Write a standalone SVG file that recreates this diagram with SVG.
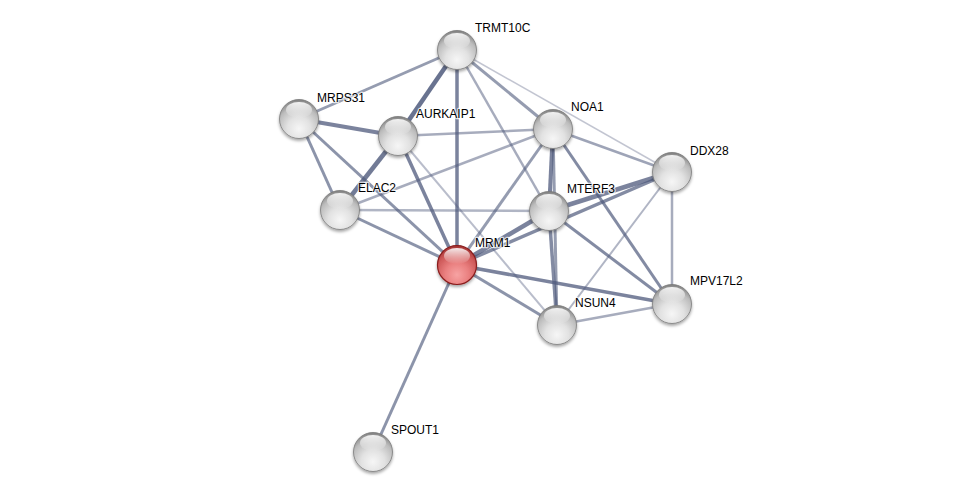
<svg xmlns="http://www.w3.org/2000/svg" width="975" height="497" viewBox="0 0 975 497">
<defs>
  <radialGradient id="gGray" cx="50%" cy="75%" r="75%">
    <stop offset="0" stop-color="#f6f6f6"/>
    <stop offset="0.4" stop-color="#e2e2e2"/>
    <stop offset="0.75" stop-color="#bcbcbc"/>
    <stop offset="1" stop-color="#7e7e7e"/>
  </radialGradient>
  <radialGradient id="gRed" cx="50%" cy="75%" r="75%">
    <stop offset="0" stop-color="#f7a3a3"/>
    <stop offset="0.4" stop-color="#ea8080"/>
    <stop offset="0.75" stop-color="#cd5858"/>
    <stop offset="1" stop-color="#a03030"/>
  </radialGradient>
  <linearGradient id="gloss" x1="0" y1="0" x2="0" y2="1">
    <stop offset="0" stop-color="#ffffff" stop-opacity="0.9"/>
    <stop offset="1" stop-color="#ffffff" stop-opacity="0"/>
  </linearGradient>
  <filter id="shadow" x="-50%" y="-50%" width="200%" height="200%">
    <feDropShadow dx="0" dy="2" stdDeviation="1.6" flood-color="#000" flood-opacity="0.35"/>
  </filter>
</defs>
<style>
  .e { stroke: #4f5a7c; fill: none; stroke-linecap: butt; }
  .n { fill: url(#gGray); stroke: #7a7a7a; stroke-width: 0.8; filter: url(#shadow); }
  .r { fill: url(#gRed); stroke: #8a1d1d; stroke-width: 1.2; filter: url(#shadow); }
  .gl { fill: url(#gloss); }
  .t { font-family: "Liberation Sans", Arial, sans-serif; font-size: 12px; fill: #000; stroke: #ffffff; stroke-width: 2.5; stroke-opacity: 0.7; paint-order: stroke; stroke-linejoin: round; }
</style>
<rect width="975" height="497" fill="#ffffff"/>
<g id="edges">
  <line class="e" x1="457" y1="50" x2="299" y2="119" stroke-width="3" stroke-opacity="0.6"/>
  <line class="e" x1="457" y1="50" x2="398" y2="136" stroke-width="4.5" stroke-opacity="0.85"/>
  <line class="e" x1="457" y1="50" x2="457" y2="265" stroke-width="3.5" stroke-opacity="0.75"/>
  <line class="e" x1="457" y1="50" x2="553" y2="129" stroke-width="3" stroke-opacity="0.6"/>
  <line class="e" x1="457" y1="50" x2="672" y2="172" stroke-width="1.5" stroke-opacity="0.35"/>
  <line class="e" x1="457" y1="50" x2="549" y2="211" stroke-width="2.5" stroke-opacity="0.5"/>
  <line class="e" x1="299" y1="119" x2="398" y2="136" stroke-width="4" stroke-opacity="0.75"/>
  <line class="e" x1="299" y1="119" x2="340" y2="210" stroke-width="3" stroke-opacity="0.65"/>
  <line class="e" x1="299" y1="119" x2="457" y2="265" stroke-width="3" stroke-opacity="0.65"/>
  <line class="e" x1="398" y1="136" x2="340" y2="210" stroke-width="4.5" stroke-opacity="0.8"/>
  <line class="e" x1="398" y1="136" x2="457" y2="265" stroke-width="3.5" stroke-opacity="0.75"/>
  <line class="e" x1="398" y1="136" x2="553" y2="129" stroke-width="2.5" stroke-opacity="0.5"/>
  <line class="e" x1="398" y1="136" x2="557" y2="325" stroke-width="2" stroke-opacity="0.4"/>
  <line class="e" x1="340" y1="210" x2="553" y2="129" stroke-width="2.5" stroke-opacity="0.5"/>
  <line class="e" x1="340" y1="210" x2="549" y2="211" stroke-width="2.5" stroke-opacity="0.45"/>
  <line class="e" x1="340" y1="210" x2="457" y2="265" stroke-width="3" stroke-opacity="0.65"/>
  <line class="e" x1="553" y1="129" x2="672" y2="172" stroke-width="2.5" stroke-opacity="0.55"/>
  <line class="e" x1="553" y1="129" x2="549" y2="211" stroke-width="4" stroke-opacity="0.75"/>
  <line class="e" x1="553" y1="129" x2="457" y2="265" stroke-width="3" stroke-opacity="0.6"/>
  <line class="e" x1="553" y1="129" x2="672" y2="304" stroke-width="3" stroke-opacity="0.7"/>
  <line class="e" x1="553" y1="129" x2="557" y2="325" stroke-width="3" stroke-opacity="0.6"/>
  <line class="e" x1="549" y1="211" x2="672" y2="172" stroke-width="4.5" stroke-opacity="0.75"/>
  <line class="e" x1="549" y1="211" x2="457" y2="265" stroke-width="4.5" stroke-opacity="0.75"/>
  <line class="e" x1="549" y1="211" x2="672" y2="304" stroke-width="3" stroke-opacity="0.7"/>
  <line class="e" x1="549" y1="211" x2="557" y2="325" stroke-width="3.5" stroke-opacity="0.7"/>
  <line class="e" x1="672" y1="172" x2="457" y2="265" stroke-width="3.5" stroke-opacity="0.7"/>
  <line class="e" x1="672" y1="172" x2="672" y2="304" stroke-width="2.5" stroke-opacity="0.5"/>
  <line class="e" x1="672" y1="172" x2="557" y2="325" stroke-width="2" stroke-opacity="0.45"/>
  <line class="e" x1="457" y1="265" x2="672" y2="304" stroke-width="3.5" stroke-opacity="0.75"/>
  <line class="e" x1="457" y1="265" x2="557" y2="325" stroke-width="3" stroke-opacity="0.65"/>
  <line class="e" x1="457" y1="265" x2="373" y2="452" stroke-width="3" stroke-opacity="0.65"/>
  <line class="e" x1="672" y1="304" x2="557" y2="325" stroke-width="2.5" stroke-opacity="0.5"/>
</g>
<g id="TRMT10C"><circle class="n" cx="457" cy="50" r="19.5"/><ellipse class="gl" cx="457" cy="41" rx="13" ry="8"/><text class="t" x="475" y="32">TRMT10C</text></g>
<g id="MRPS31"><circle class="n" cx="299" cy="119" r="19.5"/><ellipse class="gl" cx="299" cy="110" rx="13" ry="8"/><text class="t" x="317" y="102">MRPS31</text></g>
<g id="AURKAIP1"><circle class="n" cx="398" cy="136" r="19.5"/><ellipse class="gl" cx="398" cy="127" rx="13" ry="8"/><text class="t" x="416" y="118">AURKAIP1</text></g>
<g id="NOA1"><circle class="n" cx="553" cy="129" r="19.5"/><ellipse class="gl" cx="553" cy="120" rx="13" ry="8"/><text class="t" x="571" y="111">NOA1</text></g>
<g id="DDX28"><circle class="n" cx="672" cy="172" r="19.5"/><ellipse class="gl" cx="672" cy="163" rx="13" ry="8"/><text class="t" x="690" y="155">DDX28</text></g>
<g id="ELAC2"><circle class="n" cx="340" cy="210" r="19.5"/><ellipse class="gl" cx="340" cy="201" rx="13" ry="8"/><text class="t" x="358" y="192">ELAC2</text></g>
<g id="MTERF3"><circle class="n" cx="549" cy="211" r="19.5"/><ellipse class="gl" cx="549" cy="202" rx="13" ry="8"/><text class="t" x="567" y="193">MTERF3</text></g>
<g id="MRM1"><circle class="r" cx="457" cy="265" r="19.5"/><ellipse class="gl" cx="457" cy="256" rx="13" ry="8"/><text class="t" x="475" y="247">MRM1</text></g>
<g id="MPV17L2"><circle class="n" cx="672" cy="304" r="19.5"/><ellipse class="gl" cx="672" cy="295" rx="13" ry="8"/><text class="t" x="690" y="285">MPV17L2</text></g>
<g id="NSUN4"><circle class="n" cx="557" cy="325" r="19.5"/><ellipse class="gl" cx="557" cy="316" rx="13" ry="8"/><text class="t" x="575" y="307">NSUN4</text></g>
<g id="SPOUT1"><circle class="n" cx="373" cy="452" r="19.5"/><ellipse class="gl" cx="373" cy="443" rx="13" ry="8"/><text class="t" x="391" y="434">SPOUT1</text></g>
</svg>
